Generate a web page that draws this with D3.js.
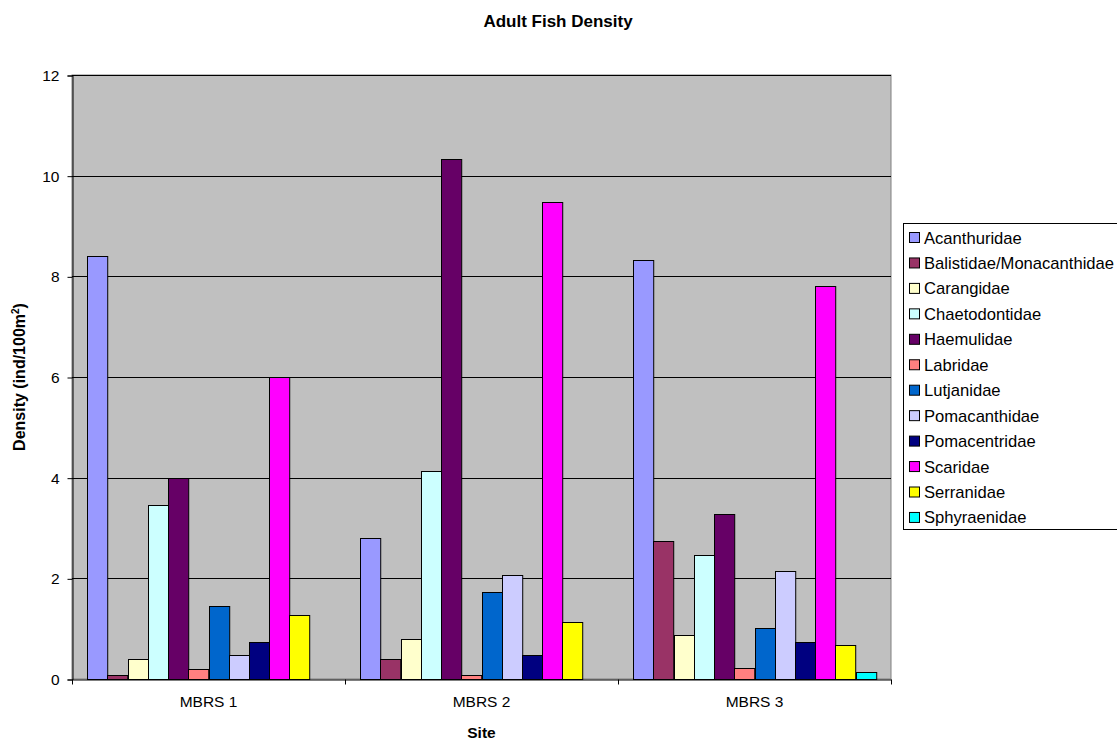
<!DOCTYPE html>
<html>
<head>
<meta charset="utf-8">
<script src="https://cdn.jsdelivr.net/npm/d3@7/dist/d3.min.js"></script>
<style>
  html, body { margin: 0; padding: 0; background: #fff; }
  svg { display: block; font-family: "Liberation Sans", Arial, sans-serif; }
</style>
</head>
<body>
<svg id="chart" width="1117" height="742"></svg>
<script>
// Sites along the x axis
const sites = ["MBRS 1", "MBRS 2", "MBRS 3"];

// Fish families (series), in legend order
const families = [
  "Acanthuridae", "Balistidae/Monacanthidae", "Carangidae", "Chaetodontidae",
  "Haemulidae", "Labridae", "Lutjanidae", "Pomacanthidae",
  "Pomacentridae", "Scaridae", "Serranidae", "Sphyraenidae"
];

// Series colours
const familyColors = [
  "#9999FF", "#993366", "#FFFFCC", "#CCFFFF",
  "#660066", "#FF8080", "#0066CC", "#CCCCFF",
  "#000080", "#FF00FF", "#FFFF00", "#00FFFF"
];

// Adult density (ind/100m2) per family, one value per site
const acanthuridae   = [8.41, 2.80, 8.33];
const balistidae     = [0.08, 0.40, 2.74];
const carangidae     = [0.40, 0.80, 0.87];
const chaetodontidae = [3.46, 4.13, 2.47];
const haemulidae     = [4.00, 10.33, 3.27];
const labridae       = [0.20, 0.07, 0.21];
const lutjanidae     = [1.46, 1.73, 1.01];
const pomacanthidae  = [0.47, 2.07, 2.14];
const pomacentridae  = [0.74, 0.47, 0.74];
const scaridae       = [6.00, 9.47, 7.80];
const serranidae     = [1.28, 1.13, 0.67];
const sphyraenidae   = [0.00, 0.00, 0.13];

const seriesValues = [
  acanthuridae, balistidae, carangidae, chaetodontidae, haemulidae, labridae,
  lutjanidae, pomacanthidae, pomacentridae, scaridae, serranidae, sphyraenidae
];

const yTicks = [0, 2, 4, 6, 8, 10, 12];

const svg = d3.select("#chart");
const plot = { left: 72, right: 891, top: 75, bottom: 679 };

const x0 = d3.scaleBand().domain(sites).range([plot.left, plot.right]).paddingInner(0).paddingOuter(0);
// 150% gap between clusters: 12 bars + 1.5 bar widths of gap per category
const x1 = d3.scaleBand().domain(families)
  .range([0, x0.bandwidth()])
  .paddingInner(0).paddingOuter(0.75);
const y = d3.scaleLinear().domain([0, 12]).range([plot.bottom, plot.top]);
const color = d3.scaleOrdinal().domain(families).range(familyColors);

// Plot background
svg.append("rect")
  .attr("x", plot.left).attr("y", plot.top)
  .attr("width", plot.right - plot.left).attr("height", plot.bottom - plot.top)
  .attr("fill", "#C0C0C0").attr("stroke", "#808080").attr("stroke-width", 1);

// Horizontal gridlines
svg.append("g").selectAll("line")
  .data(yTicks.filter(d => d > 0))
  .join("line")
  .attr("x1", plot.left).attr("x2", plot.right)
  .attr("y1", d => Math.round(y(d)) + 0.5).attr("y2", d => Math.round(y(d)) + 0.5)
  .attr("stroke", "#000").attr("stroke-width", 1);

// Bars
const rows = [];
families.forEach((f, i) => {
  sites.forEach((s, j) => rows.push({ family: f, site: s, value: seriesValues[i][j] }));
});
svg.append("g").selectAll("rect")
  .data(rows.filter(d => d.value > 0))
  .join("rect")
  .attr("x", d => Math.round(x0(d.site) + x1(d.family)) + 0.5)
  .attr("y", d => Math.round(y(d.value)) + 0.5)
  .attr("width", x1.bandwidth())
  .attr("height", d => Math.round(y(0)) - Math.round(y(d.value)))
  .attr("fill", d => color(d.family))
  .attr("stroke", "#000").attr("stroke-width", 1);

// Y axis
const yAxis = d3.axisLeft(y).tickValues(yTicks).tickSize(5).tickPadding(8).tickFormat(d3.format("d"));
const gy = svg.append("g").attr("transform", `translate(${plot.left + 0.5},0.5)`).call(yAxis);
gy.select(".domain").attr("stroke", "#000");
gy.selectAll(".tick line").attr("stroke", "#000");
gy.selectAll(".tick text").attr("font-size", 15.5).attr("fill", "#000")
  .attr("font-family", "Liberation Sans, Arial, sans-serif");

// X axis with ticks on category boundaries
const xAxis = d3.axisBottom(x0).tickSize(0).tickPadding(16);
const gx = svg.append("g").attr("transform", `translate(0,${plot.bottom + 0.5})`).call(xAxis);
gx.select(".domain").attr("stroke", "#000");
gx.selectAll(".tick text").attr("font-size", 15.5).attr("fill", "#000")
  .attr("font-family", "Liberation Sans, Arial, sans-serif");
const boundaries = sites.map(s => x0(s)).concat([plot.right]);
gx.selectAll(".bound").data(boundaries).join("line")
  .attr("class", "bound")
  .attr("x1", d => Math.round(d) + 0.5).attr("x2", d => Math.round(d) + 0.5)
  .attr("y1", 0).attr("y2", 5)
  .attr("stroke", "#000");

// Title
svg.append("text")
  .attr("x", 558).attr("y", 27)
  .attr("text-anchor", "middle")
  .attr("font-size", 17).attr("font-weight", "bold")
  .text("Adult Fish Density");

// Axis titles
svg.append("text")
  .attr("x", (plot.left + plot.right) / 2).attr("y", 738)
  .attr("text-anchor", "middle")
  .attr("font-size", 15.5).attr("font-weight", "bold")
  .text("Site");

const yTitle = svg.append("text")
  .attr("transform", `translate(25,${(plot.top + plot.bottom) / 2}) rotate(-90)`)
  .attr("text-anchor", "middle")
  .attr("font-size", 16).attr("font-weight", "bold");
yTitle.append("tspan").text("Density (ind/100m");
yTitle.append("tspan").attr("dy", -6).attr("font-size", 10).text("2");
yTitle.append("tspan").attr("dy", 6).text(")");

// Legend
const legend = { left: 903, top: 223, bottom: 529, firstRow: 238, step: 25.45 };
svg.append("rect")
  .attr("x", legend.left + 0.5).attr("y", legend.top + 0.5)
  .attr("width", 1117 - legend.left + 5).attr("height", legend.bottom - legend.top)
  .attr("fill", "#fff").attr("stroke", "#000").attr("stroke-width", 1);

const items = svg.append("g").selectAll("g")
  .data(families)
  .join("g")
  .attr("transform", (d, i) => `translate(0,${legend.firstRow + i * legend.step})`);
items.append("rect")
  .attr("x", 909.5).attr("y", -5.5).attr("width", 10).attr("height", 10)
  .attr("fill", d => color(d)).attr("stroke", "#000").attr("stroke-width", 1);
items.append("text")
  .attr("x", 924).attr("y", 5.5)
  .attr("font-size", 16.6)
  .text(d => d);
</script>
</body>
</html>
